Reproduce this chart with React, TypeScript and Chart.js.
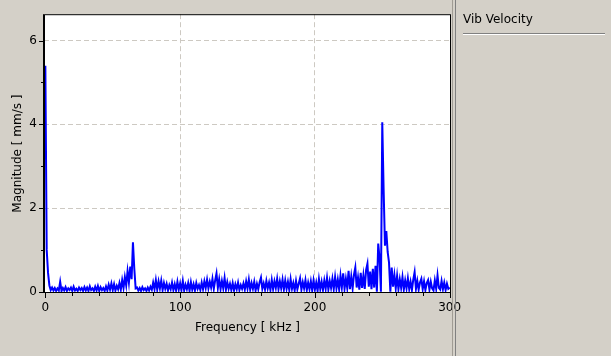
import React, { useEffect, useRef } from "react";
import { Chart, registerables } from "chart.js";

Chart.register(...registerables);

// ---- data ----
const SERIES_NAME = "Vib Velocity";
const X_TITLE = "Frequency [ kHz ]";
const Y_TITLE = "Magnitude [ mm/s ]";

const X_MIN = -1;
const X_MAX = 301;
const Y_MIN = -0.03;
const Y_MAX = 6.63;

const X_MAJOR_TICKS = [0, 100, 200, 300];
const X_MINOR_TICKS = [20, 40, 60, 80, 120, 140, 160, 180, 220, 240, 260, 280];
const Y_MAJOR_TICKS = [0, 2, 4, 6];
const Y_MINOR_TICKS = [1, 3, 5];

const FREQ_STEP_KHZ = 1;

// magnitude in mm/s, one value per kHz bin from 0 to 300 kHz
const MAGNITUDE = [
  5.40, 1.00, 0.45, 0.15, 0.04, 0.10, 0.03, 0.09, 0.02, 0.08,
  0.03, 0.24, 0.02, 0.09, 0.03, 0.11, 0.02, 0.08, 0.04, 0.10,
  0.02, 0.12, 0.03, 0.07, 0.02, 0.10, 0.04, 0.09, 0.02, 0.11,
  0.03, 0.10, 0.02, 0.13, 0.04, 0.08, 0.02, 0.12, 0.03, 0.14,
  0.02, 0.11, 0.04, 0.09, 0.02, 0.13, 0.03, 0.17, 0.05, 0.20,
  0.04, 0.18, 0.03, 0.14, 0.06, 0.21, 0.05, 0.28, 0.09, 0.35,
  0.15, 0.49, 0.22, 0.60, 0.30, 1.18, 0.55, 0.08, 0.10, 0.03,
  0.09, 0.02, 0.11, 0.04, 0.08, 0.02, 0.10, 0.03, 0.12, 0.05,
  0.22, 0.06, 0.28, 0.05, 0.25, 0.08, 0.27, 0.04, 0.21, 0.07,
  0.19, 0.03, 0.16, 0.06, 0.22, 0.04, 0.18, 0.03, 0.24, 0.05,
  0.20, 0.04, 0.26, 0.03, 0.17, 0.06, 0.21, 0.02, 0.23, 0.05,
  0.18, 0.03, 0.21, 0.07, 0.16, 0.04, 0.22, 0.06, 0.25, 0.09,
  0.29, 0.08, 0.24, 0.10, 0.31, 0.07, 0.27, 0.44, 0.09, 0.30,
  0.06, 0.26, 0.08, 0.33, 0.05, 0.23, 0.07, 0.19, 0.04, 0.21,
  0.03, 0.18, 0.06, 0.22, 0.04, 0.16, 0.07, 0.20, 0.05, 0.25,
  0.08, 0.29, 0.05, 0.21, 0.07, 0.24, 0.03, 0.19, 0.06, 0.23,
  0.34, 0.07, 0.20, 0.05, 0.26, 0.08, 0.22, 0.04, 0.28, 0.06,
  0.25, 0.09, 0.31, 0.06, 0.25, 0.08, 0.29, 0.05, 0.27, 0.07,
  0.24, 0.04, 0.30, 0.07, 0.21, 0.03, 0.26, 0.06, 0.19, 0.32,
  0.05, 0.23, 0.08, 0.28, 0.04, 0.22, 0.06, 0.25, 0.03, 0.27,
  0.05, 0.22, 0.02, 0.30, 0.06, 0.24, 0.04, 0.27, 0.07, 0.33,
  0.05, 0.26, 0.09, 0.31, 0.06, 0.35, 0.08, 0.29, 0.05, 0.38,
  0.10, 0.44, 0.07, 0.31, 0.09, 0.50, 0.06, 0.36, 0.08, 0.41,
  0.58, 0.10, 0.34, 0.05, 0.45, 0.09, 0.39, 0.07, 0.52, 0.67,
  0.12, 0.48, 0.06, 0.55, 0.10, 0.62, 0.00, 1.15, 0.80, 0.00,
  4.05, 2.45, 1.10, 1.45, 0.95, 0.70, 0.00, 0.58, 0.12, 0.40,
  0.08, 0.38, 0.06, 0.30, 0.09, 0.35, 0.05, 0.27, 0.08, 0.32,
  0.06, 0.24, 0.04, 0.29, 0.47, 0.07, 0.26, 0.05, 0.22, 0.31,
  0.06, 0.25, 0.04, 0.21, 0.28, 0.05, 0.24, 0.08, 0.03, 0.27,
  0.07, 0.39, 0.09, 0.05, 0.26, 0.06, 0.22, 0.04, 0.19, 0.07,
  0.10,
];

// ---- styling ----
const W = 611;
const H = 356;
const PANEL_BG = "#d4d0c8";
const LINE_COLOR = "#0000ff";
const GRID_COLOR = "#cdc9c2";
const FONT_FAMILY = "'DejaVu Sans', Verdana, sans-serif";
const FONT_SIZE = 12;

const framePlugin = {
  id: "frame",
  beforeDraw(chart: any) {
    const { ctx, chartArea } = chart;
    const { left, top, right, bottom } = chartArea;
    ctx.save();
    ctx.fillStyle = PANEL_BG;
    ctx.fillRect(0, 0, chart.width, chart.height);
    ctx.fillStyle = "#ffffff";
    ctx.fillRect(left, top, right - left, bottom - top);
    ctx.restore();
  },
  afterDraw(chart: any) {
    const { ctx, chartArea, scales } = chart;
    const { left, top, right, bottom } = chartArea;
    const xs = scales.x;
    const ys = scales.y;
    ctx.save();
    ctx.strokeStyle = "#000000";
    ctx.lineWidth = 1;
    ctx.strokeRect(left + 0.5, top + 0.5, right - left - 1, bottom - top - 1);
    ctx.beginPath();
    ctx.moveTo(left - 0.5, top);
    ctx.lineTo(left - 0.5, bottom);
    ctx.stroke();

    ctx.beginPath();
    const xTick = (v: number, len: number) => {
      const px = Math.round(xs.getPixelForValue(v)) + 0.5;
      ctx.moveTo(px, bottom);
      ctx.lineTo(px, bottom + len);
    };
    const yTick = (v: number, len: number) => {
      const py = Math.round(ys.getPixelForValue(v)) + 0.5;
      ctx.moveTo(left - len, py);
      ctx.lineTo(left, py);
    };
    X_MAJOR_TICKS.forEach((v) => xTick(v, 5));
    X_MINOR_TICKS.forEach((v) => xTick(v, 3));
    Y_MAJOR_TICKS.forEach((v) => yTick(v, 5));
    Y_MINOR_TICKS.forEach((v) => yTick(v, 3));
    ctx.stroke();

    // separator between plot and legend panel
    ctx.strokeStyle = "#a09c94";
    ctx.beginPath();
    ctx.moveTo(452.5, 0);
    ctx.lineTo(452.5, H);
    ctx.stroke();
    ctx.strokeStyle = "#808080";
    ctx.beginPath();
    ctx.moveTo(455.5, 0);
    ctx.lineTo(455.5, H);
    ctx.stroke();
    ctx.restore();
  },
};

export default function App() {
  const canvasRef = useRef<HTMLCanvasElement | null>(null);

  useEffect(() => {
    document.body.style.margin = "0";
    const canvas = canvasRef.current;
    if (!canvas) return;

    const points = MAGNITUDE.map((m, i) => ({ x: i * FREQ_STEP_KHZ, y: m }));
    const hiddenEdge = (vals: number[]) => (c: any) =>
      vals.includes(c.tick && c.tick.value) ? "rgba(0,0,0,0)" : GRID_COLOR;

    const chart = new Chart(canvas, {
      type: "line",
      data: {
        datasets: [
          {
            label: SERIES_NAME,
            data: points,
            borderColor: LINE_COLOR,
            backgroundColor: LINE_COLOR,
            borderWidth: 2,
            pointRadius: 0,
            tension: 0,
            fill: false,
          },
        ],
      },
      options: {
        animation: false,
        responsive: false,
        devicePixelRatio: 1,
        layout: { padding: { left: 0, top: 10, right: W - 451, bottom: 0 } },
        plugins: {
          legend: { display: false },
          tooltip: { enabled: false },
        },
        scales: {
          x: {
            type: "linear",
            min: X_MIN,
            max: X_MAX,
            afterBuildTicks: (s: any) => {
              s.ticks = X_MAJOR_TICKS.map((v) => ({ value: v }));
            },
            afterFit: (s: any) => {
              s.height = 63;
            },
            grid: {
              drawTicks: false,
              color: hiddenEdge([0, 300]),
              lineWidth: 1,
            },
            border: { display: false, dash: [5, 3] },
            ticks: {
              padding: 8,
              color: "#000000",
              font: { family: FONT_FAMILY, size: FONT_SIZE },
              maxRotation: 0,
              autoSkip: false,
              callback: (v: any) => String(v),
            },
            title: {
              display: true,
              text: X_TITLE,
              color: "#000000",
              font: { family: FONT_FAMILY, size: FONT_SIZE },
              padding: { top: 0, bottom: 20.8 },
            },
          },
          y: {
            type: "linear",
            min: Y_MIN,
            max: Y_MAX,
            afterBuildTicks: (s: any) => {
              s.ticks = Y_MAJOR_TICKS.map((v) => ({ value: v }));
            },
            afterFit: (s: any) => {
              s.width = 44;
            },
            grid: {
              drawTicks: false,
              color: hiddenEdge([0]),
              lineWidth: 1,
            },
            border: { display: false, dash: [5, 3] },
            ticks: {
              padding: 7,
              color: "#000000",
              font: { family: FONT_FAMILY, size: FONT_SIZE },
              autoSkip: false,
              callback: (v: any) => String(v),
            },
            title: {
              display: true,
              text: Y_TITLE,
              color: "#000000",
              font: { family: FONT_FAMILY, size: FONT_SIZE },
              padding: { top: 10.3, bottom: 0 },
            },
          },
        },
      },
      plugins: [framePlugin],
    });

    return () => chart.destroy();
  }, []);

  return (
    <div
      style={{
        position: "fixed",
        left: 0,
        top: 0,
        width: W,
        height: H,
        background: PANEL_BG,
        overflow: "hidden",
      }}
    >
      <canvas ref={canvasRef} width={W} height={H} style={{ display: "block" }} />
      <div
        style={{
          position: "absolute",
          left: 463,
          top: 12,
          fontFamily: FONT_FAMILY,
          fontSize: FONT_SIZE,
          lineHeight: "14px",
          color: "#000000",
          whiteSpace: "nowrap",
        }}
      >
        {SERIES_NAME}
      </div>
      <div
        style={{
          position: "absolute",
          left: 463,
          top: 33,
          width: 142,
          height: 1,
          background: "#808080",
          borderBottom: "1px solid #ffffff",
        }}
      />
    </div>
  );
}
